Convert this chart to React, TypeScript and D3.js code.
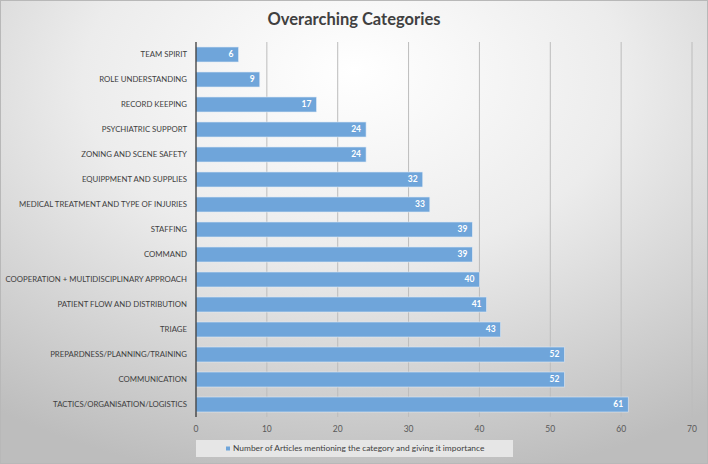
import React from "react";
import * as d3 from "d3";

const categories = [
  "TEAM SPIRIT",
  "ROLE UNDERSTANDING",
  "RECORD KEEPING",
  "PSYCHIATRIC SUPPORT",
  "ZONING AND SCENE SAFETY",
  "EQUIPPMENT AND SUPPLIES",
  "MEDICAL TREATMENT AND TYPE OF INJURIES",
  "STAFFING",
  "COMMAND",
  "COOPERATION + MULTIDISCIPLINARY APPROACH",
  "PATIENT FLOW AND DISTRIBUTION",
  "TRIAGE",
  "PREPARDNESS/PLANNING/TRAINING",
  "COMMUNICATION",
  "TACTICS/ORGANISATION/LOGISTICS",
];
const values = [6, 9, 17, 24, 24, 32, 33, 39, 39, 40, 41, 43, 52, 52, 61];
const xTicks = [0, 10, 20, 30, 40, 50, 60, 70];
const title = "Overarching Categories";
const legendLabel = "Number of Articles mentioning the category and giving it importance";

const W = 708;
const H = 464;
const FONT = "Lato, 'Open Sans', sans-serif";

export default function App() {
  const x = d3.scaleLinear().domain([0, 70]).range([196, 692]);
  const y = d3.scaleBand<string>().domain(categories).range([42, 417]).paddingInner(0.4).paddingOuter(0.2);
  const bh = y.bandwidth();
  return (
    <svg width={W} height={H} style={{ position: "absolute", left: 0, top: 0 }} fontFamily={FONT}>
      <defs>
        <radialGradient id="bg" cx="50%" cy="20%" r="85%" fx="50%" fy="15%">
          <stop offset="0%" stopColor="#ffffff" />
          <stop offset="45%" stopColor="#ececec" />
          <stop offset="100%" stopColor="#bdbdbd" />
        </radialGradient>
      </defs>
      <rect x={0} y={0} width={W} height={H} fill="url(#bg)" />
      <rect x={0.5} y={0.5} width={W - 1} height={H - 1} fill="none" stroke="#b8b8b8" />
      <text x={354} y={25} textAnchor="middle" fontSize={16.5} fontWeight="bold" fill="#404040">
        {title}
      </text>
      {xTicks.map((t) => (
        <g key={t}>
          {t > 0 && (
            <line x1={x(t)} x2={x(t)} y1={42} y2={417} stroke="#bcbcbc" strokeWidth={1} />
          )}
          <text x={x(t)} y={429} dy="0.35em" textAnchor="middle" fontSize={8.5} fill="#595959">
            {t}
          </text>
        </g>
      ))}
      {categories.map((c, i) => {
        const yy = y(c)!;
        const v = values[i];
        return (
          <g key={c}>
            <rect x={x(0)} y={yy} width={x(v) - x(0)} height={bh} fill="#6fa5da" stroke="#dfe9f5" strokeWidth={0.6} />
            <text x={x(v) - 5} y={yy + bh / 2} dy="0.35em" textAnchor="end" fontSize={8.5} fontWeight="bold" fill="#ffffff">
              {v}
            </text>
            <text x={187} y={yy + bh / 2} dy="0.35em" textAnchor="end" fontSize={7.8} fill="#404040">
              {c}
            </text>
          </g>
        );
      })}
      <line x1={x(0)} x2={x(0)} y1={42} y2={417} stroke="#2b2b2b" strokeWidth={1.2} />
      <rect x={196} y={440} width={317} height={17} fill="#e6e6e6" />
      <rect x={226} y={446.5} width={4} height={4} fill="#6fa5da" />
      <text x={233} y={448.5} dy="0.35em" fontSize={8.4} fill="#404040">
        {legendLabel}
      </text>
    </svg>
  );
}
